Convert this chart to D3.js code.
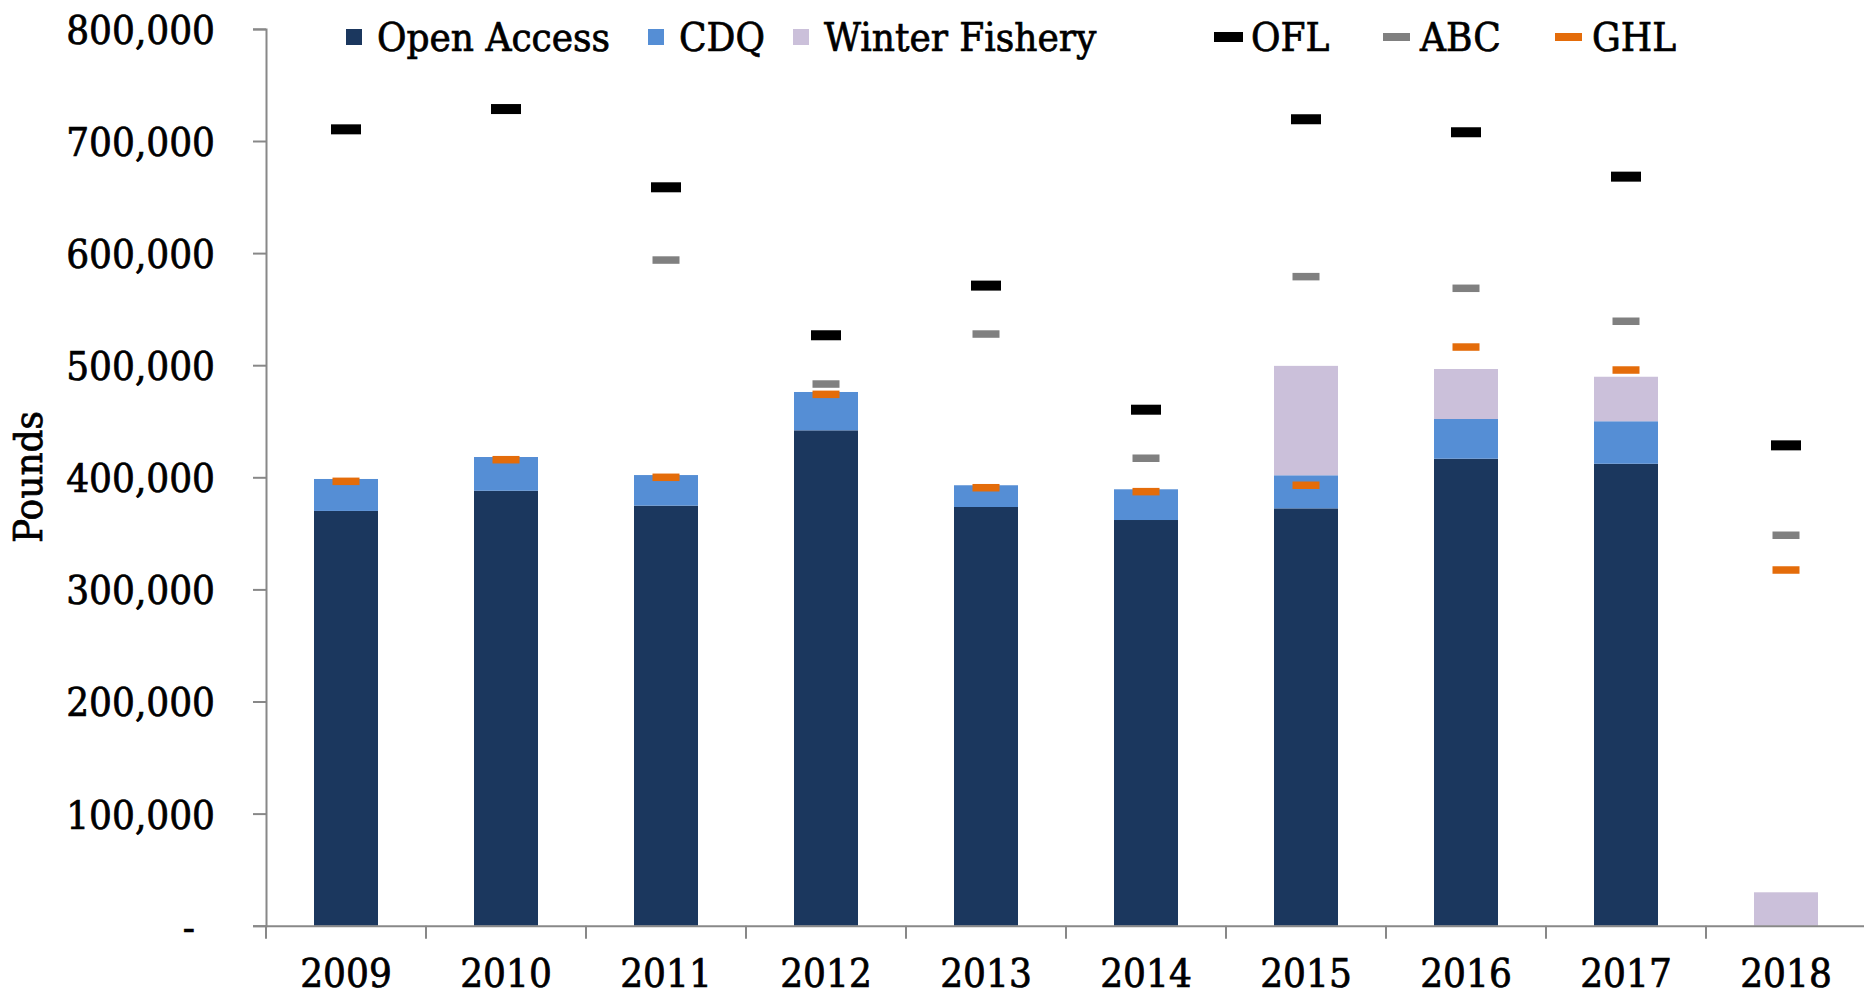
<!DOCTYPE html>
<html>
<head>
<meta charset="utf-8">
<script src="https://cdn.jsdelivr.net/npm/d3@7"></script>
<style>
  html, body { margin: 0; padding: 0; background: #fff; }
  svg { display: block; }
  text { font-family: "DejaVu Serif", "Liberation Serif", serif; font-stretch: condensed; fill: #000; stroke: #000; stroke-width: 0.7px; }
</style>
</head>
<body>
<div id="chart"></div>
<script>
// Catch by year (pounds)
const years = ['2009', '2010', '2011', '2012', '2013', '2014', '2015', '2016', '2017', '2018'];
const openAccess = [370000, 388000, 374700, 441900, 373500, 361900, 372300, 416600, 412100, 0];
const cdq = [28500, 30100, 27300, 34200, 19400, 27400, 29500, 35400, 37900, 0];
const winterFishery = [0, 0, 0, 0, 0, 0, 97600, 44600, 39700, 29800];
const ofl = [710400, 728500, 658700, 526700, 571000, 460300, 719400, 707800, 668200, 428500];
const abc = [null, null, 593800, 483200, 527800, 417000, 579000, 568600, 539200, 348300];
const ghl = [396400, 415700, 400000, 474000, 390700, 387200, 392900, 516200, 495700, 317300];
const yTicks = [0, 100000, 200000, 300000, 400000, 500000, 600000, 700000, 800000];

const W = 1864, H = 999;
const plotLeft = 266, plotRight = 1866, plotTop = 28.9, plotBottom = 925.7;
const fontSize = 40;

const colors = { oa: '#1b375e', cdq: '#558ed5', wf: '#cbc0da', ofl: '#000000', abc: '#808080', ghl: '#e46c0a' };
const axisColor = '#888888';

const svg = d3.select('#chart').append('svg')
  .attr('width', W)
  .attr('height', H)
  .attr('viewBox', [0, 0, W, H]);

const x = d3.scaleBand().domain(years).range([plotLeft, plotRight]).paddingInner(0.6).paddingOuter(0.3);
const y = d3.scaleLinear().domain([0, 800000]).range([plotBottom, plotTop]);

// stacked bars
const table = years.map((yr, i) => ({ year: yr, oa: openAccess[i], cdq: cdq[i], wf: winterFishery[i] }));
const series = d3.stack().keys(['oa', 'cdq', 'wf'])(table);

svg.append('g')
  .selectAll('g')
  .data(series)
  .join('g')
  .attr('fill', d => colors[d.key])
  .selectAll('rect')
  .data(d => d.filter(s => s[1] - s[0] > 0))
  .join('rect')
  .attr('x', d => x(d.data.year))
  .attr('y', d => y(d[1]))
  .attr('width', x.bandwidth())
  .attr('height', d => y(d[0]) - y(d[1]));

// y axis
const yAxis = svg.append('g')
  .attr('transform', `translate(${plotLeft},0)`)
  .call(d3.axisLeft(y)
    .tickValues(yTicks)
    .tickSize(13)
    .tickSizeOuter(13)
    .tickPadding(38)
    .tickFormat(d => d === 0 ? '-' : d3.format(',')(d)));
yAxis.select('.domain').attr('stroke', axisColor).attr('stroke-width', 2);
yAxis.selectAll('.tick line').attr('stroke', axisColor).attr('stroke-width', 2);
yAxis.selectAll('.tick text')
  .attr('font-size', fontSize)
  .attr('font-family', null)
  .attr('fill', '#000')
  .attr('dy', '0.36em')
  .attr('dx', d => d === 0 ? -20 : 0);

// x axis
const xAxis = svg.append('g')
  .attr('transform', `translate(0,${plotBottom})`)
  .call(d3.axisBottom(x).tickSize(0).tickSizeOuter(0).tickPadding(33));
xAxis.select('.domain').attr('stroke', axisColor).attr('stroke-width', 2);
xAxis.selectAll('.tick text')
  .attr('font-size', fontSize)
  .attr('font-family', null)
  .attr('fill', '#000');

// category boundary ticks
const half = (x.step() - x.bandwidth()) / 2;
xAxis.append('g')
  .selectAll('line')
  .data(years)
  .join('line')
  .attr('x1', d => x(d) - half)
  .attr('x2', d => x(d) - half)
  .attr('y1', 0)
  .attr('y2', 13)
  .attr('stroke', axisColor)
  .attr('stroke-width', 2);

// y axis title
svg.append('text')
  .attr('transform', `translate(42,477) rotate(-90)`)
  .attr('text-anchor', 'middle')
  .attr('font-size', fontSize)
  .text('Pounds');

// OFL / ABC / GHL dash markers
const markers = [
  { key: 'ofl', values: ofl, w: 30, h: 10 },
  { key: 'abc', values: abc, w: 27, h: 7.5 },
  { key: 'ghl', values: ghl, w: 27, h: 7.5 }
];
markers.forEach(m => {
  svg.append('g')
    .selectAll('rect')
    .data(years.map((yr, i) => ({ year: yr, v: m.values[i] })).filter(d => d.v != null))
    .join('rect')
    .attr('x', d => x(d.year) + x.bandwidth() / 2 - m.w / 2)
    .attr('y', d => y(d.v) - m.h / 2)
    .attr('width', m.w)
    .attr('height', m.h)
    .attr('fill', colors[m.key]);
});

// legend
const legendItems = [
  { label: 'Open Access', key: 'oa', type: 'box', x: 346 },
  { label: 'CDQ', key: 'cdq', type: 'box', x: 648 },
  { label: 'Winter Fishery', key: 'wf', type: 'box', x: 793 },
  { label: 'OFL', key: 'ofl', type: 'dash', x: 1214 },
  { label: 'ABC', key: 'abc', type: 'dash', x: 1383 },
  { label: 'GHL', key: 'ghl', type: 'dash', x: 1555 }
];
const legendY = 37;
const lg = svg.append('g')
  .selectAll('g')
  .data(legendItems)
  .join('g')
  .attr('transform', d => `translate(${d.x},${legendY})`);

lg.filter(d => d.type === 'box').append('rect')
  .attr('x', 0).attr('y', -8)
  .attr('width', 16).attr('height', 16)
  .attr('fill', d => colors[d.key]);

lg.filter(d => d.type === 'dash').append('rect')
  .attr('x', 0).attr('y', d => d.key === 'ofl' ? -5 : -4)
  .attr('width', d => d.key === 'ofl' ? 29 : 27).attr('height', d => d.key === 'ofl' ? 10 : 8)
  .attr('fill', d => colors[d.key]);

lg.append('text')
  .attr('x', d => d.type === 'box' ? 31 : 37)
  .attr('y', 14)
  .attr('font-size', fontSize)
  .text(d => d.label);
</script>
</body>
</html>
